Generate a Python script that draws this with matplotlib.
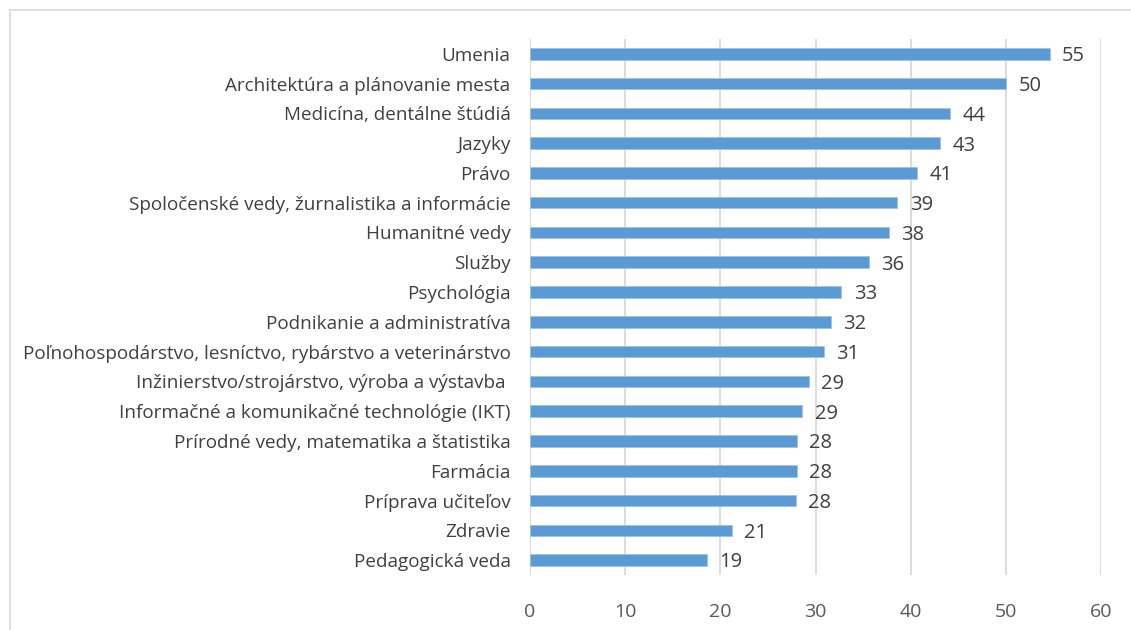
import matplotlib
matplotlib.use("Agg")
import matplotlib.pyplot as plt
from matplotlib.patches import Rectangle

# fields and share (%), top to bottom
fields = [
    "Umenia",
    "Architektúra a plánovanie mesta",
    "Medicína, dentálne štúdiá",
    "Jazyky",
    "Právo",
    "Spoločenské vedy, žurnalistika a informácie",
    "Humanitné vedy",
    "Služby",
    "Psychológia",
    "Podnikanie a administratíva",
    "Poľnohospodárstvo, lesníctvo, rybárstvo a veterinárstvo",
    "Inžinierstvo/strojárstvo, výroba a výstavba ",
    "Informačné a komunikačné technológie (IKT)",
    "Prírodné vedy, matematika a štatistika",
    "Farmácia",
    "Príprava učiteľov",
    "Zdravie",
    "Pedagogická veda",
]
values = [54.6, 50.0, 44.1, 43.1, 40.7, 38.6, 37.7, 35.6, 32.7, 31.6, 30.9,
          29.3, 28.6, 28.0, 28.0, 27.9, 21.2, 18.6]
xticks = [0, 10, 20, 30, 40, 50, 60]

plt.rcParams['font.family'] = ['Open Sans', 'DejaVu Sans']

fig = plt.figure(figsize=(11.31, 6.3), dpi=100)
ax = fig.add_axes([0.4686, 0.0873, 0.505, 0.851])

# light frame round the chart area like the excel export
fig.patches.append(Rectangle((10 / 1131, -0.1), 1.2, 1 - 10 / 630 + 0.1,
                             transform=fig.transFigure, fill=False,
                             edgecolor="#D9D9D9", linewidth=1.2))

ypos = list(range(len(fields)))
bars = ax.barh(ypos, values, height=0.39, color="#5B9BD5",
               edgecolor="#9DC3E6", linewidth=0.6, zorder=3)

for b, v in zip(bars, values):
    ax.text(b.get_width() + 1.3, b.get_y() + b.get_height() / 2 + 0.08,
            f"{v:.0f}", va="center", ha="left", fontsize=14.5, color="#404040")

ax.set_ylim(len(fields) - 0.5, -0.5)
ax.set_xlim(0, 60)
ax.set_xticks(xticks)
ax.set_yticks(ypos)
ax.set_yticklabels(fields)
ax.tick_params(axis="y", length=0, pad=14, labelsize=13.6, labelcolor="#404040")
ax.tick_params(axis="x", length=0, pad=20, labelsize=14, labelcolor="#595959")

ax.grid(axis="x", color="#D9D9D9", linewidth=1.3, zorder=0)
for s in ax.spines.values():
    s.set_visible(False)
ax.axvline(0, color="#D9D9D9", linewidth=1.3, zorder=1)

fig.savefig("out.png", dpi=100)
